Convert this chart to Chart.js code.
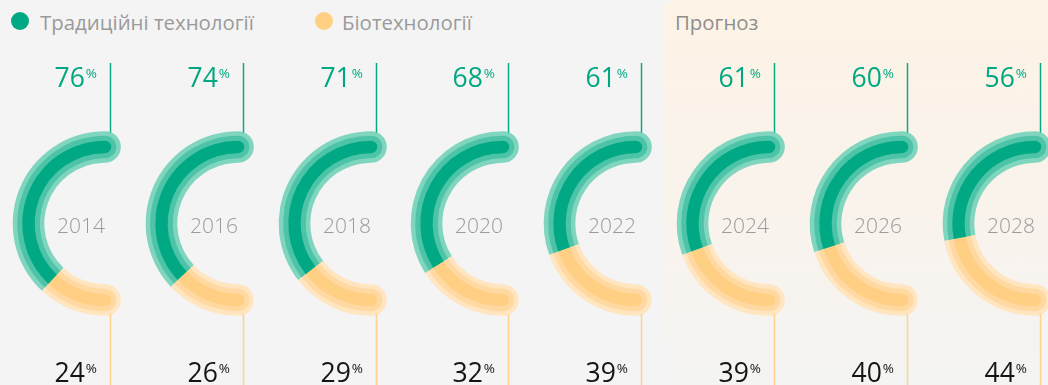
<!DOCTYPE html>
<html lang="uk">
<head>
<meta charset="utf-8">
<title>Традиційні технології та біотехнології</title>
<script src="https://cdn.jsdelivr.net/npm/chart.js@4.4.1/dist/chart.umd.min.js"></script>
<style>
  html, body { margin: 0; padding: 0; }
  body {
    width: 1048px; height: 385px; position: relative; overflow: hidden;
    background: #f4f4f4; font-family: "Open Sans", "DejaVu Sans", sans-serif;
  }
  #forecast {
    position: absolute; left: 663px; top: 0; width: 400px; height: 385px;
    border-top-left-radius: 12px;
    background: linear-gradient(to bottom, #fdf3e6 0%, #f9f3ec 55%, #f4f4f3 100%);
  }
  .dot { position: absolute; width: 18px; height: 18px; border-radius: 50%; top: 11.5px; }
  .txt { position: absolute; top: 12px; font-size: 20.4px; line-height: 20px; color: #9a9a9a; white-space: nowrap; }
  canvas { position: absolute; top: 0; }
</style>
</head>
<body>
<div id="forecast"></div>
<span class="dot" style="left:11px;background:#00a984"></span>
<span class="txt" style="left:40px">Традиційні технології</span>
<span class="dot" style="left:315px;background:#ffd084"></span>
<span class="txt" style="left:342px">Біотехнології</span>
<span class="txt" style="left:675px;color:#8e8e8e">Прогноз</span>

<script>
// Share of traditional technologies vs biotechnologies by year
const years = ['2014', '2016', '2018', '2020', '2022', '2024', '2026', '2028'];
const traditional = [76, 74, 71, 68, 61, 61, 60, 56];
const biotech = [24, 26, 29, 32, 39, 39, 40, 44];

// Ring layers, front to back: solid core, mid tone, soft halo
const LAYERS = [
  { half: 6.2,  green: '#00a984', orange: '#ffcf84' },
  { half: 11.3, green: '#4dc4a7', orange: '#ffd9a1' },
  { half: 15.8, green: '#80d5bf', orange: '#ffe5c0' }
];

const CX0 = 105, STEP = 132.8, CY = 223.5, RMID = 76.5;
const CW = 220, CH = 385;

const labelsPlugin = (year, trad, bio) => ({
  id: 'halfRingLabels',
  afterDraw(chart) {
    const ctx = chart.ctx;
    const core = chart.getDatasetMeta(0).data[0];
    const halo = chart.getDatasetMeta(LAYERS.length - 1).data[0];
    const x = core.x, y = core.y, rOut = halo.outerRadius;
    ctx.save();

    // leader lines
    ctx.lineWidth = 1.5;
    ctx.strokeStyle = '#0aa882';
    ctx.beginPath();
    ctx.moveTo(x + 5.5, 63);
    ctx.lineTo(x + 5.5, y - rOut + 1.5);
    ctx.stroke();
    ctx.strokeStyle = '#ffd28e';
    ctx.beginPath();
    ctx.moveTo(x + 5.5, y + rOut - 2);
    ctx.lineTo(x + 5.5, CH);
    ctx.stroke();

    // percentage values
    const drawPct = (val, baseline, color) => {
      ctx.fillStyle = color;
      ctx.textAlign = 'right';
      ctx.font = '13.5px "Open Sans"';
      ctx.textBaseline = 'alphabetic';
      const pw = ctx.measureText('%').width;
      ctx.fillText('%', x - 8, baseline - 9);
      ctx.font = '26.5px "Open Sans"';
      ctx.fillText(String(val), x - 9 - pw, baseline);
    };
    drawPct(trad, 87, '#00a882');
    drawPct(bio, 382, '#151515');

    // year in the hollow
    ctx.font = '300 21px "Open Sans"';
    ctx.fillStyle = '#9b9b9b';
    ctx.textAlign = 'right';
    ctx.fillText(year, x, y + 9.5);
    ctx.restore();
  }
});

years.forEach((year, i) => {
  const cx = CX0 + i * STEP;
  const canvas = document.createElement('canvas');
  canvas.width = CW;
  canvas.height = CH;
  canvas.style.left = (cx - CW / 2) + 'px';
  document.body.appendChild(canvas);

  const W = LAYERS.length;
  const datasets = LAYERS.map((ly, k) => {
    const L = 2 * ly.half;
    const outer = RMID + ly.half;
    const R = outer + k * L;                     // undo ring stacking so layers share one centre line
    const cap = ly.half / RMID * 100 / Math.PI;  // rounded end beyond the half circle, in value units
    return {
      data: [biotech[i] + cap, traditional[i] + cap, 100 - 2 * cap],
      backgroundColor: [ly.orange, ly.green, 'rgba(0,0,0,0)'],
      borderWidth: 0,
      radius: R,
      cutout: ((R - W * L) / R * 100) + '%',
      rotation: 180 - 1.8 * cap,
      circumference: 360,
      borderRadius: (c) => c.dataIndex === 0
        ? { outerStart: ly.half, innerStart: ly.half, outerEnd: 0, innerEnd: 0 }
        : c.dataIndex === 1
          ? { outerStart: 0, innerStart: 0, outerEnd: ly.half, innerEnd: ly.half }
          : 0
    };
  });

  new Chart(canvas, {
    type: 'doughnut',
    data: { labels: ['Біотехнології', 'Традиційні технології', ''], datasets },
    options: {
      responsive: false,
      animation: false,
      events: [],
      layout: { padding: { top: 2 * CY - CH } },
      plugins: { legend: { display: false }, tooltip: { enabled: false } }
    },
    plugins: [labelsPlugin(year, traditional[i], biotech[i])]
  });
});
</script>
</body>
</html>
